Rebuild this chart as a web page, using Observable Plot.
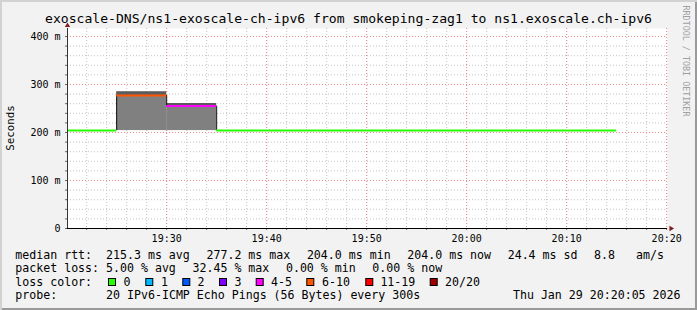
<!DOCTYPE html>
<html><head><meta charset="utf-8">
<script src="https://cdn.jsdelivr.net/npm/d3@7"></script>
<script src="https://cdn.jsdelivr.net/npm/@observablehq/plot@0.6"></script>
<style>
html,body{margin:0;padding:0;background:#f2f2f2;}
#chart{position:relative;width:697px;height:310px;overflow:hidden;background:#f2f2f2;}
#chart svg{position:absolute;left:0;top:0;}
#shade{position:absolute;left:0;top:0;width:697px;height:310px;pointer-events:none;
  box-shadow: inset 2px 2px 0 #d2d2d2, inset -2px -2px 0 #9a9a9a;}
</style></head><body>
<div id="chart"><div id="shade"></div></div>
<script>
// ---------- data ----------
const titleText = "exoscale-DNS/ns1-exoscale-ch-ipv6 from smokeping-zag1 to ns1.exoscale.ch-ipv6";
const yAxisTitle = "Seconds";
const watermark = "RRDTOOL / TOBI OETIKER";
const timeWindow = ["19:20:05", "20:20:05"];
const intervalEnds = ["19:25","19:30","19:35","19:40","19:45","19:50","19:55","20:00","20:05","20:10","20:15"];
const medianMs   = [204.0, 277.2, 255.0, 204.0, 204.0, 204.0, 204.0, 204.0, 204.0, 204.0, 204.0];
const smokeMinMs = [204.0, 204.0, 204.0, 204.0, 204.0, 204.0, 204.0, 204.0, 204.0, 204.0, 204.0];
const smokeMaxMs = [204.0, 285.0, 260.4, 204.0, 204.0, 204.0, 204.0, 204.0, 204.0, 204.0, 204.0];
const lossPct    = [0, 32.45, 22.55, 0, 0, 0, 0, 0, 0, 0, 0];
const pings = 20;
const lossBins   = [0, 1, 2, 3, 5, 10, 19, 20];
const lossLabels = ["0", "1", "2", "3", "4-5", "6-10", "11-19", "20/20"];
const lossColors = ["#26ff00", "#00b8ff", "#0059ff", "#7e00ff", "#ff00ff", "#ff5500", "#ff0000", "#a10000"];
const xTickLabels = ["19:30", "19:40", "19:50", "20:00", "20:10", "20:20"];
const yTickValues = [0, 100, 200, 300, 400];
const yTickLabels = ["0", "100 m", "200 m", "300 m", "400 m"];
const yMax = 416.67;
const rttStats = ["median rtt:  215.3 ms avg", "277.2 ms max", "204.0 ms min", "204.0 ms now", "24.4 ms sd", "8.8   am/s"];
const lossStats = ["packet loss: 5.00 % avg", "32.45 % max", "0.00 % min", "0.00 % now"];
const colorLabel = "loss color:";
const probeLabel = "probe:";
const probeText = "20 IPv6-ICMP Echo Pings (56 Bytes) every 300s";
const stampText = "Thu Jan 29 20:20:05 2026";

// ---------- layout ----------
const FONT = "DejaVu Sans Mono";
const LEGEND_SIZE = 11.6;
const CHAR_W = LEGEND_SIZE * 0.602;
const ITEM_GAP = 16.6;
const LEFT = 15.3;
const rowY = [259, 272.3, 285.7, 299.3];
const boxX = [108.5, 145.8, 182.8, 219.5, 256.2, 306.8, 365.8, 430.2];
const boxLabelX = [123.4, 161, 197.4, 234.4, 271, 322, 380.4, 445];

// ---------- build ----------
const toDate = s => { const [h, m, sec] = s.split(":").map(Number); return new Date(Date.UTC(2026, 0, 29, h, m, sec || 0)); };
const stepMs = 300e3;
const rows = intervalEnds.map((e, i) => {
  const end = toDate(e);
  const lost = lossPct[i] / 100 * pings;
  const bin = lossBins.findIndex(b => lost <= b);
  return {start: new Date(+end - stepMs), end, median: medianMs[i], smin: smokeMinMs[i], smax: smokeMaxMs[i], color: lossColors[bin]};
});
const steps = rows.slice(1).map((r, i) => ({t: r.start, from: rows[i].median, to: r.median})).filter(d => d.from !== d.to);

const x0 = toDate(timeWindow[0]), x1 = toDate(timeWindow[1]);
const xMinor = d3.utcMinute.every(2).range(x0, x1);
const xMajor = xTickLabels.map(toDate);
const yMinor = d3.range(0, yMax, 20);

const chart = Plot.plot({
  width: 697, height: 310,
  marginLeft: 67, marginRight: 30, marginTop: 28, marginBottom: 82,
  style: {background: "transparent", fontFamily: FONT, fontSize: "10px", color: "#000", overflow: "visible"},
  x: {type: "utc", domain: [x0, x1]},
  y: {domain: [0, yMax]},
  marks: [
    Plot.frame({fill: "#ffffff", stroke: null}),
    Plot.gridX(xMinor, {stroke: "#c4c4c4", strokeOpacity: 1, strokeDasharray: "1,2"}),
    Plot.gridY(yMinor, {stroke: "#c4c4c4", strokeOpacity: 1, strokeDasharray: "1,2"}),
    Plot.gridX(xMajor, {stroke: "#f08a8a", strokeOpacity: 1, strokeDasharray: "1,2"}),
    Plot.gridY(yTickValues, {stroke: "#f08a8a", strokeOpacity: 1, strokeDasharray: "1,2"}),
    Plot.rect(rows, {x1: "start", x2: "end", y1: "smin", y2: "median", fill: "#808080", clip: true}),
    Plot.rect(rows, {x1: "start", x2: "end", y1: "median", y2: "smax", fill: "#5c5c5c", clip: true}),
    Plot.ruleX(steps, {x: "t", y1: "from", y2: "to", stroke: "#111"}),
    Plot.ruleY(rows, {y: "median", x1: "start", x2: "end", stroke: "color", strokeWidth: 2, clip: true}),
    Plot.axisX(xMinor, {tickSize: 2, tickFormat: () => "", label: null, stroke: "#666"}),
    Plot.axisY(yMinor, {tickSize: 2, tickFormat: () => "", label: null, stroke: "#666"}),
    Plot.axisX(xMajor, {tickSize: 0, tickPadding: 6, tickFormat: d => xTickLabels[xMajor.findIndex(t => +t === +d)], label: null}),
    Plot.axisY(yTickValues, {tickSize: 0, tickPadding: 7, tickFormat: d => yTickLabels[yTickValues.indexOf(d)], label: null}),
    Plot.ruleY([0], {stroke: "#000"}),
    Plot.ruleX([x0], {stroke: "#333"}),
    Plot.dot({length: 1}, {x: [x1], y: [0], symbol: "triangle", r: 2, fill: "#7f1f1f", stroke: null, rotate: 90, dx: 3.5}),
    Plot.dot({length: 1}, {x: [x0], y: [yMax], symbol: "triangle", r: 2, fill: "#7f1f1f", stroke: null, dy: -3})
  ]
});
document.getElementById("chart").insertBefore(chart, document.getElementById("shade"));

// ---------- texts ----------
const svg = d3.select(chart);
const g = svg.append("g").attr("font-family", FONT).attr("fill", "#000").attr("stroke", "none");
g.append("text").attr("x", 348.5).attr("y", 23).attr("text-anchor", "middle").attr("font-size", 13.1).text(titleText);
g.append("text").attr("transform", "translate(14,128) rotate(-90)").attr("text-anchor", "middle").attr("font-size", 10.8).text(yAxisTitle);
g.append("text").attr("transform", "translate(683.3,61) rotate(90)").attr("text-anchor", "middle").attr("font-size", 8.4).attr("fill", "#a0a0a0").text(watermark);

const lg = g.append("g").attr("font-size", LEGEND_SIZE);
const put = (x, y, s, anchor) => lg.append("text").attr("x", x).attr("y", y).attr("text-anchor", anchor || "start").attr("xml:space", "preserve").text(s);
const putRow = (items, y) => { let x = LEFT; items.forEach(s => { put(x, y, s); x += s.length * CHAR_W + ITEM_GAP; }); };
putRow(rttStats, rowY[0]);
putRow(lossStats, rowY[1]);
put(LEFT, rowY[2], colorLabel);
lossLabels.forEach((s, i) => {
  lg.append("rect").attr("x", boxX[i]).attr("y", rowY[2] - 7.2).attr("width", 7).attr("height", 7)
    .attr("fill", lossColors[i]).attr("stroke", "#000").attr("stroke-width", 1);
  put(boxLabelX[i], rowY[2], s);
});
put(LEFT, rowY[3], probeLabel);
put(LEFT + 13 * CHAR_W, rowY[3], probeText);
put(680.5, rowY[3], stampText, "end");
</script>
</body></html>
